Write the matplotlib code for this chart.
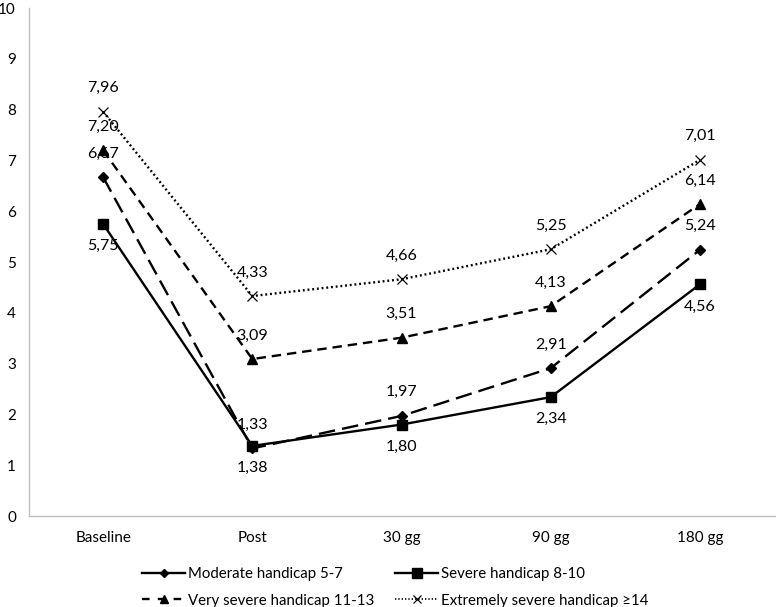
import matplotlib
matplotlib.use("Agg")
import matplotlib.pyplot as plt
from matplotlib.lines import Line2D

categories = ["Baseline", "Post", "30 gg", "90 gg", "180 gg"]
moderate = [6.67, 1.33, 1.97, 2.91, 5.24]
severe = [5.75, 1.38, 1.80, 2.34, 4.56]
very_severe = [7.20, 3.09, 3.51, 4.13, 6.14]
extremely = [7.96, 4.33, 4.66, 5.25, 7.01]
names = ["Moderate handicap 5-7", "Severe handicap 8-10",
         "Very severe handicap 11-13", "Extremely severe handicap ≥14"]

plt.rcParams['font.family'] = ['Lato', 'DejaVu Sans']

fig = plt.figure(figsize=(7.76, 6.07), dpi=100)
ax = fig.add_axes([28.5/776, 1-516/607, 746/776, 508/607])
x = list(range(len(categories)))

series = [
    (moderate, dict(marker='D', markersize=5.5, linestyle=(0, (7, 3)), lw=1.7), 'above'),
    (severe, dict(marker='s', markersize=7.5, linestyle='-', lw=1.7), 'below'),
    (very_severe, dict(marker='^', markersize=7, linestyle=(0, (4, 2.5)), lw=1.7), 'above'),
    (extremely, dict(marker='x', markersize=7, linestyle=(0, (0.8, 1.2)), lw=1.7, markeredgewidth=0.9), 'above'),
]
for (vals, st, pos), nm in zip(series, names):
    ax.plot(x, vals, color='black', label=nm, **st)
    for xi, v in zip(x, vals):
        off = 17 if pos == 'above' else -16
        ax.annotate(f"{v:.2f}".replace('.', ','), (xi, v), xytext=(0, off),
                    textcoords='offset points', ha='center', va='center', fontsize=11.5)

ax.set_xlim(-0.5, 4.5)
ax.set_ylim(0, 10)
ax.set_yticks(range(0, 11))
ax.set_xticks(x)
ax.set_xticklabels(categories)
ax.tick_params(length=0, labelsize=11)
ax.tick_params(axis='y', pad=9)
ax.tick_params(axis='x', pad=11)
for lbl in ax.get_yticklabels():
    lbl.set_verticalalignment('center_baseline')
for s in ['top', 'right']:
    ax.spines[s].set_visible(False)
for s in ['left', 'bottom']:
    ax.spines[s].set_color('#BFBFBF')
    ax.spines[s].set_linewidth(1)

# measure legend text width to match reference layout
renderer = fig.canvas.get_renderer()
probe = fig.text(0, 0, names[2], fontsize=12.5)
w = probe.get_window_extent(renderer).width
probe.remove()
fs = 12.5 * 187.0 / w
fs_px = fs * 100 / 72
colsp = (396 - (188 + 187)) / fs_px
hl = 43 / fs_px
htp = 3 / fs_px

leg_handles = [
    Line2D([], [], color='black', lw=1.7, linestyle='-', marker='D', markersize=4.5),
    Line2D([], [], color='black', lw=1.7, linestyle=(0, (3.2, 3.5)), marker='^', markersize=6),
    Line2D([], [], color='black', lw=1.7, linestyle='-', marker='s', markersize=6.5),
    Line2D([], [], color='black', lw=1.2, linestyle=(0, (0.8, 1.2)), marker='x', markersize=6, markeredgewidth=0.9),
]
order = [0, 2, 1, 3]
bp = 0.4
fig.legend(leg_handles, [names[i] for i in order],
           loc='lower left', bbox_to_anchor=((142 - bp * fs_px) / 776, -0.011), ncol=2, frameon=False,
           fontsize=fs, handlelength=hl, handletextpad=htp, columnspacing=colsp,
           labelspacing=0.73 * 12.5 / fs, borderaxespad=0, borderpad=bp)

fig.savefig("out.png", dpi=100)
